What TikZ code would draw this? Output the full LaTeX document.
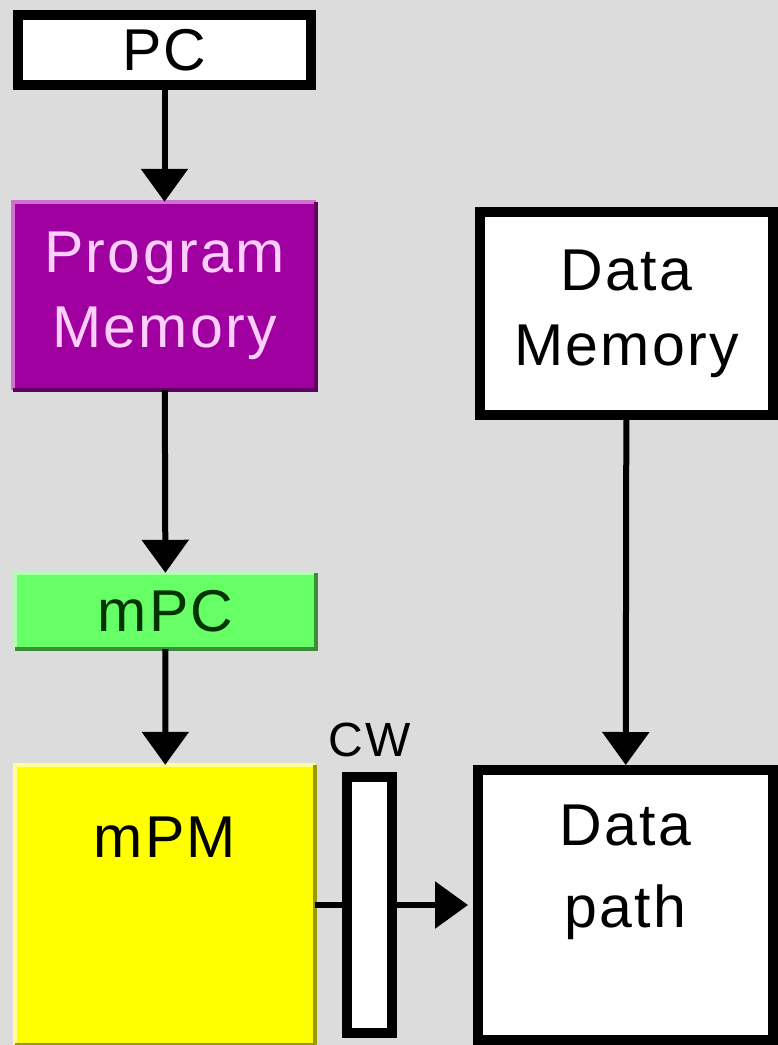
\documentclass[tikz,border=0pt]{standalone}
\usepackage{fontspec}
\setmainfont{Liberation Sans}[LetterSpace=4]
\usetikzlibrary{arrows.meta}
\definecolor{Backdrop}{HTML}{DCDCDC}
\definecolor{ProgFill}{HTML}{A000A0}
\definecolor{ProgLite}{HTML}{D070D0}
\definecolor{ProgDark}{HTML}{600060}
\definecolor{ProgText}{HTML}{FFD0FF}
\definecolor{MpcFill}{HTML}{66FF66}
\definecolor{MpcLite}{HTML}{B0FFB0}
\definecolor{MpcDark}{HTML}{3C8C3C}
\definecolor{MpcText}{HTML}{003300}
\definecolor{MpmFill}{HTML}{FFFF00}
\definecolor{MpmLite}{HTML}{FFFF99}
\definecolor{MpmDark}{HTML}{9A9A00}

\tikzset{
  box/.style={draw=black,line width=10pt,fill=white,inner sep=0pt},
  txt/.style={font=\fontsize{59}{75}\selectfont,align=center},
  flow/.style={line width=6pt,-{Triangle[width=46pt,length=33pt]}},
  edge/.style={line width=4pt}
}

\begin{document}
\begin{tikzpicture}[x=1pt,y=-1pt]
   \fill[Backdrop] (0,0) rectangle (778,1045);
   \useasboundingbox (0,0) rectangle (778,1045);

   % left column
   \node[box,txt,minimum width=293pt,minimum height=70pt] (pc) at (164.5,50) {PC};
   \node[txt,fill=ProgFill,text=ProgText,inner sep=0pt,minimum width=303pt,minimum height=188pt] (prog) at (164.5,296) {Program\\Memory};
   \node[txt,fill=MpcFill,text=MpcText,inner sep=0pt,minimum width=301pt,minimum height=76pt] (mpc) at (165.5,611) {mPC};
   \node[fill=MpmFill,inner sep=0pt,minimum width=300pt,minimum height=280pt,
         label={[txt,anchor=north,yshift=-52pt,inner sep=0pt]north:mPM}] (mpm) at (165,905) {};
   \foreach \n/\lite/\dark in {prog/ProgLite/ProgDark,mpc/MpcLite/MpcDark,mpm/MpmLite/MpmDark} {
    \draw[edge,\lite] (\n.south west) |- (\n.north east);
    \draw[edge,\dark] (\n.south west) -| (\n.north east);
   }

   % control word and right column
   \node[box,minimum width=45pt,minimum height=256pt,
         label={[font=\fontsize{48}{58}\selectfont,inner sep=0pt,yshift=15pt]north:CW}] (cw) at (369.5,905) {};
   \node[box,txt,minimum width=293pt,minimum height=203pt] (dmem) at (626.5,313.5) {Data\\Memory};
   \node[box,minimum width=295pt,minimum height=270pt,
         label={[txt,font=\fontsize{59}{82}\selectfont,anchor=north,yshift=-40pt,inner sep=0pt]north:Data\\path}] (dpath) at (625.5,905) {};

   \draw[flow] (pc) -- (prog);
   \draw[flow] (prog) -- (mpc);
   \draw[flow] (mpc) -- (mpm);
   \draw[flow] (dmem) -- (dpath);
   \draw[line width=6pt] (mpm) -- (cw);
   \draw[flow,shorten >=5pt] (cw) -- (dpath);
\end{tikzpicture}
\end{document}
